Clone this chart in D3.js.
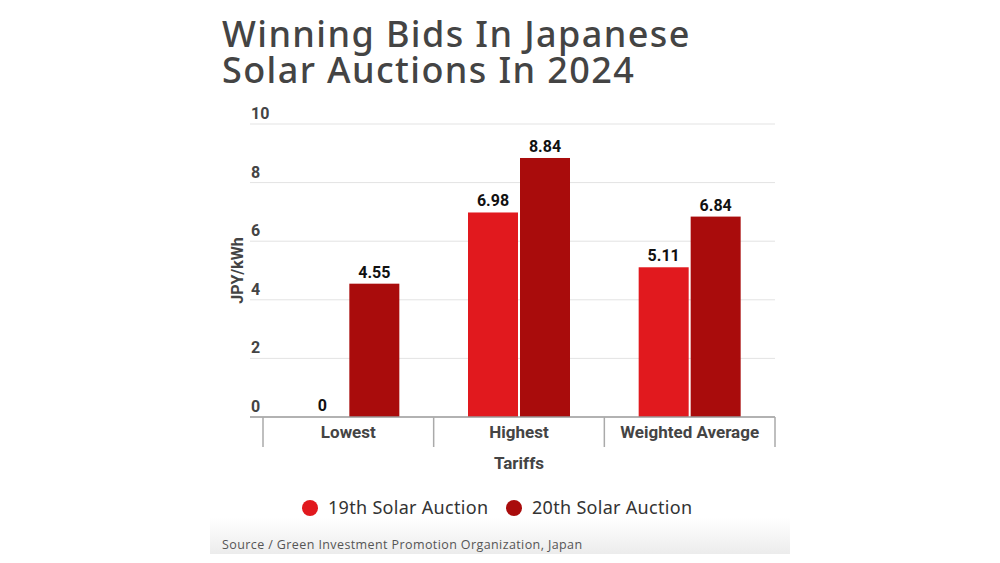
<!DOCTYPE html>
<html>
<head>
<meta charset="utf-8">
<style>
    body { margin: 0; background: #fff; }
    svg { font-family: Roboto, sans-serif; }
</style>
</head>
<body>
<svg width="1000" height="563"></svg>
<script src="https://d3js.org/d3.v7.min.js"></script>
<script>
    let categories = ["Lowest", "Highest", "Weighted Average"]
    let seriesNames = ["19th Solar Auction", "20th Solar Auction"]
    let auction19 = [0, 6.98, 5.11]
    let auction20 = [4.55, 8.84, 6.84]
    let yTicks = [0, 2, 4, 6, 8, 10]
    let colors = ["#e1191e", "#a90c0c"]

    let svg = d3.select("svg")

    // source band
    let grad = svg.append("defs").append("linearGradient")
        .attr("id", "band").attr("x1", 0).attr("x2", 0).attr("y1", 0).attr("y2", 1)
    grad.append("stop").attr("offset", "0%").attr("stop-color", "#ffffff")
    grad.append("stop").attr("offset", "100%").attr("stop-color", "#ececec")
    svg.append("rect").attr("x", 210).attr("y", 518).attr("width", 580).attr("height", 36)
        .style("fill", "url(#band)")
    svg.append("text").attr("x", 222).attr("y", 549)
        .style("font-size", "12.5px").style("letter-spacing", "0.4px").style("fill", "#555").style("font-family", "'Open Sans', sans-serif")
        .text("Source / Green Investment Promotion Organization, Japan")

    // title, two lines
    let titleLines = ["Winning Bids In Japanese", "Solar Auctions In 2024"]
    svg.append("g").selectAll("text").data(titleLines).join("text")
        .attr("x", 222).attr("y", (d, i) => 47 + i * 36)
        .style("font-family", "'Noto Sans', sans-serif")
        .style("font-size", "36px").style("font-weight", 500).style("letter-spacing", "1.4px").style("fill", "#444")
        .text(d => d)

    let x = d3.scaleBand().domain(categories).range([263, 775])
    let y = d3.scaleLinear().domain([0, 10]).range([417, 124])
    let barW = 50, gap = 2

    // grid + tick labels
    svg.append("g").selectAll("line").data(yTicks.slice(1)).join("line")
        .attr("x1", 250).attr("x2", 775)
        .attr("y1", d => y(d)).attr("y2", d => y(d))
        .style("stroke", "#e3e3e3").style("stroke-width", 1)
    svg.append("g").selectAll("text").data(yTicks).join("text")
        .attr("x", 251).attr("y", d => y(d) - 5)
        .style("font-size", "16px").style("font-weight", 700).style("fill", "#444")
        .text(d => d)

    svg.append("text")
        .attr("transform", "translate(243," + y(5) + ") rotate(-90)")
        .attr("text-anchor", "middle")
        .style("font-size", "16px").style("font-weight", 700).style("fill", "#444")
        .text("JPY/kWh")

    // bars
    let series = [auction19, auction20]
    series.forEach((vals, i) => {
        let cx = c => x(c) + x.bandwidth() / 2 + (i === 0 ? -barW - gap / 2 : gap / 2)
        svg.append("g").selectAll("rect").data(categories).join("rect")
            .attr("x", c => cx(c))
            .attr("y", (c, j) => y(vals[j]))
            .attr("width", barW)
            .attr("height", (c, j) => y(0) - y(vals[j]))
            .style("fill", colors[i])
        svg.append("g").selectAll("text").data(categories).join("text")
            .attr("x", c => cx(c) + barW / 2)
            .attr("y", (c, j) => y(vals[j]) - 6)
            .attr("text-anchor", "middle")
            .style("font-size", "16px").style("font-weight", 700).style("fill", "#111")
            .text((c, j) => vals[j])
    })

    // x axis
    svg.append("line").attr("x1", 250).attr("x2", 775).attr("y1", y(0)).attr("y2", y(0))
        .style("stroke", "#999").style("stroke-width", 1.5)
    let edges = categories.map(c => x(c)).concat([x.range()[1]])
    svg.append("g").selectAll("line").data(edges).join("line")
        .attr("x1", d => d).attr("x2", d => d)
        .attr("y1", y(0)).attr("y2", y(0) + 30)
        .style("stroke", "#aaa").style("stroke-width", 1.5)
    svg.append("g").selectAll("text").data(categories).join("text")
        .attr("x", c => x(c) + x.bandwidth() / 2).attr("y", 438)
        .attr("text-anchor", "middle")
        .style("font-size", "17px").style("font-weight", 700).style("fill", "#444")
        .text(c => c)
    svg.append("text").attr("x", 519).attr("y", 469).attr("text-anchor", "middle")
        .style("font-size", "17px").style("font-weight", 700).style("fill", "#444")
        .text("Tariffs")

    // legend
    let lx = [310, 514]
    seriesNames.forEach((n, i) => {
        svg.append("circle").attr("cx", lx[i]).attr("cy", 508).attr("r", 8).style("fill", colors[i])
        svg.append("text").attr("x", lx[i] + 18).attr("y", 514)
            .style("font-family", "'Noto Sans', sans-serif")
            .style("font-size", "18px").style("letter-spacing", "0.3px").style("fill", "#333")
            .text(n)
    })
</script>
</body>
</html>
